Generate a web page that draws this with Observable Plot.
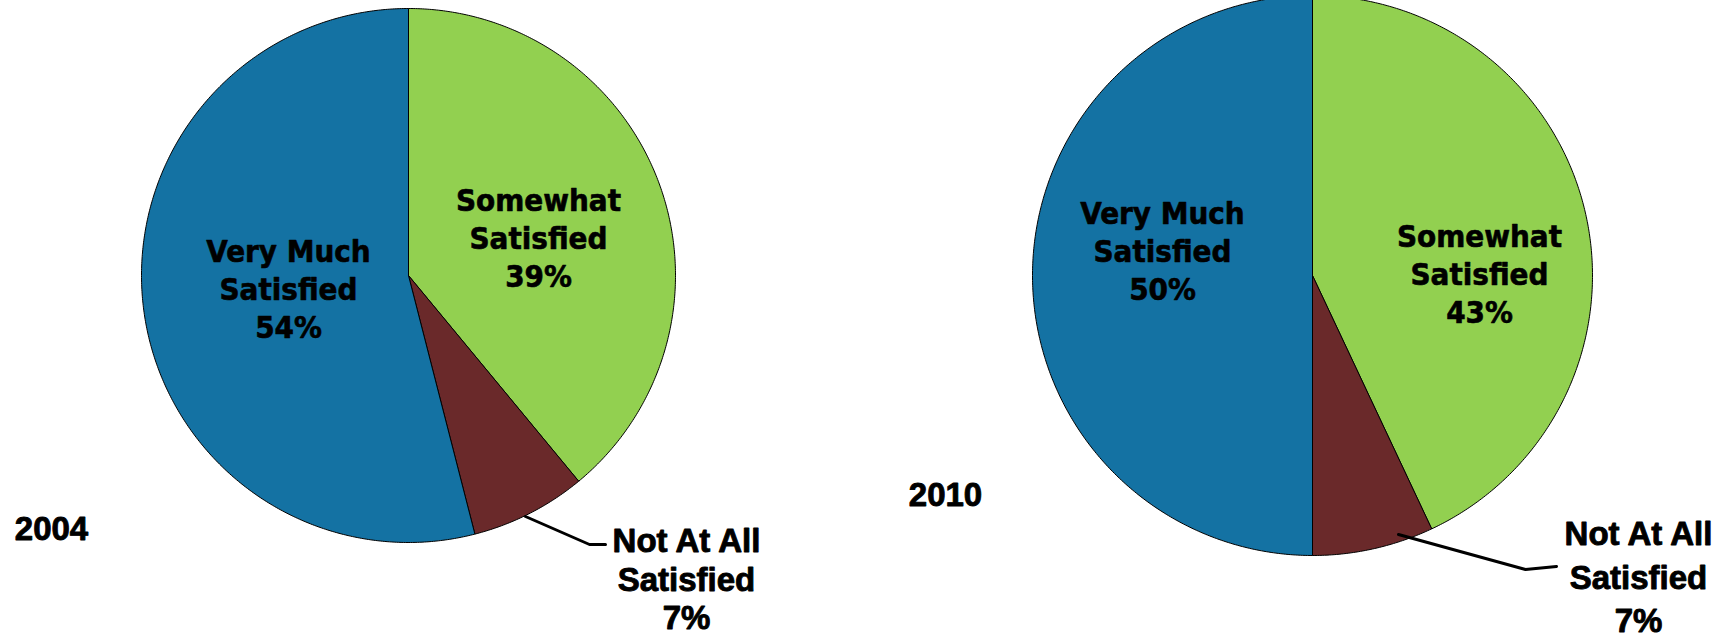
<!DOCTYPE html>
<html><head><meta charset="utf-8">
<script src="https://cdn.jsdelivr.net/npm/d3@7"></script>
<script src="https://cdn.jsdelivr.net/npm/@observablehq/plot@0.6"></script>
<style>body{margin:0;background:#fff} #chart{width:1733px;height:640px}</style>
</head><body><div id="chart"></div>
<script>
// ---- data ----
const years = ["2004", "2010"];
const categories = ["Somewhat Satisfied", "Not At All Satisfied", "Very Much Satisfied"];
const sliceLabels = ["Somewhat\nSatisfied", "Not At All\nSatisfied", "Very Much\nSatisfied"];
const values2004 = [39, 7, 54];
const values2010 = [43, 7, 50];
const colors = ["#92D050", "#6A292A", "#1472A3"];

// ---- layout ----
const W = 1733, H = 640;
const pieLayout = [
  {cx: 408, cy: 275, r: 267, yearPos: [51, 529],
   labels: [[130, -39], [278, 303], [-120, 12]], outsideLH: 1.16,
   leader: [[117, 241], [181, 269], [197, 269]]},
  {cx: 1312, cy: 275, r: 280, yearPos: [945, 495],
   labels: [[167, -3], [326, 299], [-150, -26]], outsideLH: 1.33,
   leader: [[86, 259], [213, 294], [244, 291]]}
];
const outsideIndex = 1;

const seriesByYear = [values2004, values2010];
const slices = [];
const inner = [], outer = [], yearTexts = [], leaders = [];
years.forEach((yr, i) => {
  const L = pieLayout[i];
  const vals = seriesByYear[i];
  const total = d3.sum(vals);
  let acc = 0;
  vals.forEach((v, j) => {
    const a0 = acc / total * 2 * Math.PI, a1 = (acc + v) / total * 2 * Math.PI;
    acc += v;
    const key = yr + "|" + categories[j];
    slices.push({key, cat: categories[j], x: L.cx, y: L.cy});
    const n = Math.max(2, Math.ceil((a1 - a0) / (Math.PI / 360)));
    for (let k = 0; k <= n; k++) {
      const a = a0 + (a1 - a0) * k / n;
      slices.push({key, cat: categories[j], x: L.cx + L.r * Math.sin(a), y: L.cy - L.r * Math.cos(a)});
    }
    slices.push({key, cat: categories[j], x: L.cx, y: L.cy});
    const lab = {x: L.cx + L.labels[j][0], y: L.cy + L.labels[j][1], text: sliceLabels[j] + "\n" + v + "%", yr};
    if (j === outsideIndex) outer.push(lab); else inner.push(lab);
  });
  yearTexts.push({x: L.yearPos[0], y: L.yearPos[1], text: yr});
  L.leader.forEach(p => leaders.push({key: yr, x: L.cx + p[0], y: L.cy + p[1]}));
});

const outerFont = {fontFamily: "Liberation Sans, Arial", fontWeight: "bold", fontSize: 33, fill: "black", stroke: "black", strokeWidth: 0.9};

const chart = Plot.plot({
  width: W, height: H, margin: 0,
  x: {domain: [0, W], range: [0, W], axis: null},
  y: {domain: [0, H], range: [0, H], axis: null},
  color: {domain: categories, range: colors},
  style: {background: "white"},
  marks: [
    Plot.line(slices, {x: "x", y: "y", z: "key", fill: "cat", stroke: "black", strokeWidth: 1, curve: "linear"}),
    Plot.line(leaders, {x: "x", y: "y", z: "key", stroke: "black", strokeWidth: 3, curve: "linear"}),
    Plot.text(inner, {x: "x", y: "y", text: "text", lineAnchor: "middle", lineHeight: 1.23,
      fontFamily: "DejaVu Sans Condensed, DejaVu Sans", fontWeight: "bold", fontSize: 31,
      fill: "black", stroke: "black", strokeWidth: 0.6}),
    Plot.text(outer.filter(d => d.yr === "2004"), {x: "x", y: "y", text: "text", lineAnchor: "middle", lineHeight: 1.16, ...outerFont}),
    Plot.text(outer.filter(d => d.yr === "2010"), {x: "x", y: "y", text: "text", lineAnchor: "middle", lineHeight: 1.33, ...outerFont}),
    Plot.text(yearTexts, {x: "x", y: "y", text: "text", lineAnchor: "middle", ...outerFont})
  ]
});
document.getElementById("chart").appendChild(chart);
</script>
</body></html>
